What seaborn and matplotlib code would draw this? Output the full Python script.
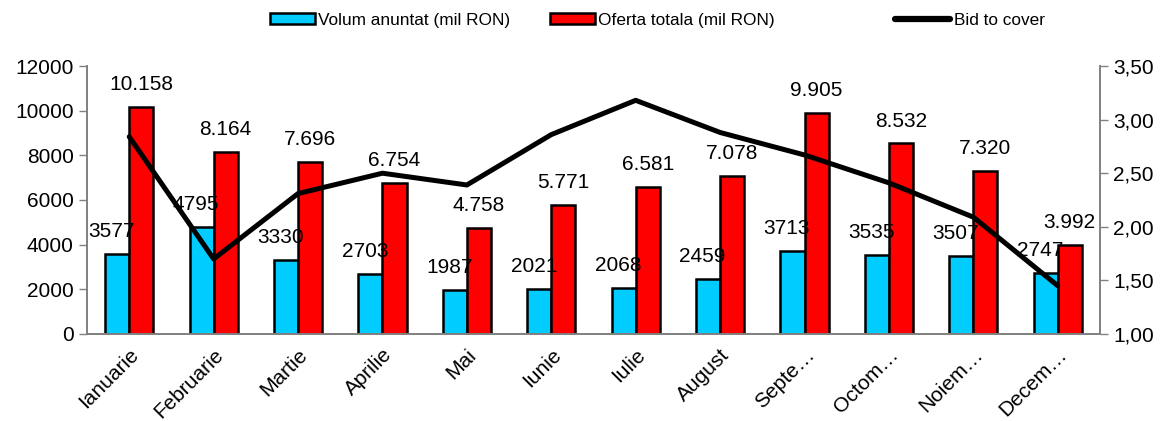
import pandas as pd
import matplotlib
matplotlib.use("Agg")
import matplotlib.pyplot as plt
import matplotlib.ticker as mticker
from matplotlib.patches import Patch
from matplotlib.lines import Line2D
import numpy as np
import seaborn as sns

# Date
luni = ["Ianuarie", "Februarie", "Martie", "Aprilie", "Mai", "Iunie",
        "Iulie", "August", "Septe…", "Octom…", "Noiem…", "Decem…"]
volum = [3577, 4795, 3330, 2703, 1987, 2021, 2068, 2459, 3713, 3535, 3507, 2747]
oferta = [10158, 8164, 7696, 6754, 4758, 5771, 6581, 7078, 9905, 8532, 7320, 3992]
bid_to_cover = [2.84, 1.70, 2.31, 2.50, 2.39, 2.86, 3.18, 2.88, 2.67, 2.41, 2.09, 1.45]

serie_volum = "Volum anuntat (mil RON)"
serie_oferta = "Oferta totala (mil RON)"

cyan = "#00CCFF"
rosu = "#FF0000"
gri = "#808080"

sns.set_style("white")
plt.rcParams["font.family"] = ["Liberation Sans", "DejaVu Sans"]
plt.rcParams["text.color"] = "black"
plt.rcParams["xtick.color"] = "black"
plt.rcParams["ytick.color"] = "black"

df = pd.DataFrame({
    "luna": luni * 2,
    "valoare": volum + oferta,
    "serie": [serie_volum] * len(luni) + [serie_oferta] * len(luni),
})

fig = plt.figure(figsize=(11.62, 4.21), dpi=100)
ax = fig.add_axes([0.0749, 0.2067, 0.8717, 0.6365])

sns.barplot(data=df, x="luna", y="valoare", hue="serie", order=luni,
            hue_order=[serie_volum, serie_oferta], palette=[cyan, rosu],
            saturation=1, edgecolor="black", linewidth=1.8, width=0.57, gap=0,
            ax=ax, legend=False)

ax.set_xlim(-0.5, len(luni) - 0.5)
ax.set_ylim(0, 12000)
ax.set_yticks(np.arange(0, 12001, 2000))
ax.set_xlabel("")
ax.set_ylabel("")

# etichete de valori
w = 0.285
for i in range(len(luni)):
    ax.annotate(str(volum[i]), (i - w / 2, volum[i]), xytext=(-4, 16),
                textcoords="offset points", ha="center", va="center", fontsize=15)
    ax.annotate(f"{oferta[i]:,}".replace(",", "."), (i + w / 2, oferta[i]),
                xytext=(0, 16), textcoords="offset points", ha="center",
                va="center", fontsize=15)

# axa secundara
ax2 = ax.twinx()
sns.lineplot(x=np.arange(len(luni)), y=bid_to_cover, color="black",
             linewidth=3.6, ax=ax2)
ax2.set_ylim(1.0, 3.5)
ax2.set_yticks(np.arange(1.0, 3.51, 0.5))
ax2.yaxis.set_major_formatter(mticker.FuncFormatter(lambda v, p: f"{v:.2f}".replace(".", ",")))
ax2.set_xlim(-0.5, len(luni) - 0.5)

# ticks pe axa x intre categorii
ax.set_xticks(np.arange(len(luni)))
ax.set_xticklabels(luni, rotation=45, ha="right", rotation_mode="anchor", fontsize=15)
ax.set_xticks(np.arange(-0.5, len(luni)), minor=True)
ax.tick_params(axis="x", which="major", length=0, pad=8)
ax.tick_params(axis="x", which="minor", length=6, width=1, color=gri, direction="out")
ax.tick_params(axis="y", labelsize=15, length=6, width=1, color=gri, direction="out", left=True)
ax2.tick_params(axis="y", labelsize=15, length=6, width=1, color=gri, direction="out", right=True)

for a in (ax, ax2):
    a.spines["top"].set_visible(False)
    for s in ("left", "right", "bottom"):
        a.spines[s].set_color(gri)
        a.spines[s].set_linewidth(1.2)
ax2.set_ylabel("")

# legenda: trei intrari plasate separat, ca in original
intrari = [
    (Patch(facecolor=cyan, edgecolor="black", linewidth=1.8, label=serie_volum), 270, 2.6),
    (Patch(facecolor=rosu, edgecolor="black", linewidth=1.8, label=serie_oferta), 550, 2.6),
    (Line2D([0], [0], color="black", linewidth=4.5, solid_capstyle="round", label="Bid to cover"), 895, 3.2),
]
for h, x0, hl in intrari:
    fig.legend(handles=[h], loc="center left", bbox_to_anchor=(x0 / 1162, 0.952),
               frameon=False, fontsize=12.4, handlelength=hl, handleheight=0.6,
               handletextpad=0.2, borderpad=0, borderaxespad=0)

fig.savefig("out.png", dpi=100)
plt.close()
